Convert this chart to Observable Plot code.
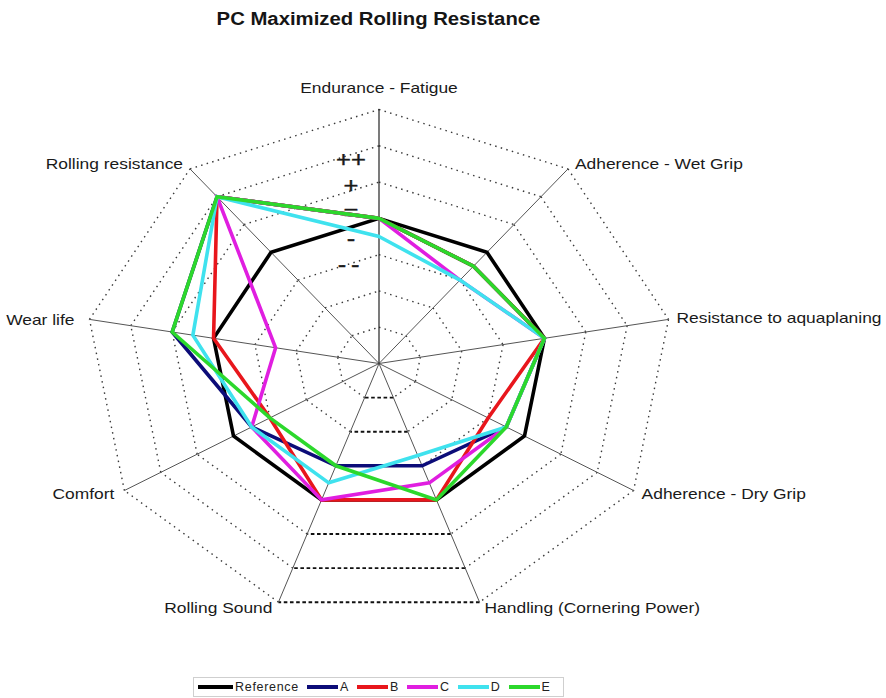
<!DOCTYPE html>
<html><head><meta charset="utf-8">
<script src="https://cdn.jsdelivr.net/npm/d3@7"></script>
<script src="https://cdn.jsdelivr.net/npm/@observablehq/plot@0.6"></script>
<style>
body{margin:0;background:#fff;font-family:Arial,"Liberation Sans",sans-serif;}
#wrap{position:relative;width:886px;height:698px;overflow:hidden;background:#fff;}
#title{position:absolute;left:0;top:9px;width:757px;text-align:center;font-weight:bold;font-size:17.5px;color:#151515;transform:scaleX(1.16);transform-origin:378.5px 0;white-space:nowrap;}
#chart{position:absolute;left:0;top:40px;}
#legend{position:absolute;left:193px;top:677px;width:371px;height:20px;border:1px solid #cfcfcf;box-sizing:border-box;display:flex;align-items:center;padding-left:4px;font-size:12.5px;letter-spacing:0.7px;color:#222;}
#legend .ln{display:inline-block;width:31px;height:4px;margin-right:2px;}
#legend .lb{margin-right:8px;}
</style>
</head><body>
<div id="wrap">
  <div id="title">PC Maximized Rolling Resistance</div>
  <div id="chart"></div>
  <div id="legend"></div>
</div>
<script>
// ---- data ----
const axes = ["Endurance - Fatigue","Adherence - Wet Grip","Resistance to aquaplaning","Adherence - Dry Grip","Handling (Cornering Power)","Rolling Sound","Comfort","Wear life","Rolling resistance"];
const seriesNames = ["Reference","A","B","C","D","E"];
const seriesColors = ["#000000","#0c0c78","#e8161c","#e01ee0","#3fe2ee","#2cd82c"];
const reference = [4,4,4,4,4,4,4,4,4];
const seriesA  = [4,3.5,4,3.5,3,3,3.5,5,6];
const seriesB  = [4,3.5,4,3,4,4,3,4,6];
const seriesC  = [4,3,4,3.5,3.5,4,3.5,2.5,6];
const seriesD  = [3.5,3,4,3.5,2.7,3.5,3.5,4.5,6];
const seriesE  = [4,3.5,4,3.5,4,3,3,5,6];
const ringLevels = [1,2,3,4,5,6,7];
const levelLabels = ["++","+","=","-","--"];

// ---- layout helpers ----
const vmax = 7;
const n = axes.length;
const ang = i => i * 2 * Math.PI / n;
const px = (v, i) => v / vmax * Math.sin(ang(i));
const py = (v, i) => v / vmax * Math.cos(ang(i));
const allSeries = [reference, seriesA, seriesB, seriesC, seriesD, seriesE];

// ring segments
const dotted = [], dashed = [];
for (const k of ringLevels) {
  for (let i = 0; i < n; i++) {
    const j = (i + 1) % n;
    const seg = {x1: px(k, i), y1: py(k, i), x2: px(k, j), y2: py(k, j)};
    (i === 4 ? dashed : dotted).push(seg);
  }
}
const spokes = axes.map((a, i) => ({x1: 0, y1: 0, x2: px(vmax, i), y2: py(vmax, i), top: i === 0}));

const lineMarks = allSeries.map((vals, s) =>
  Plot.line(vals.map((v, i) => ({x: px(v, i), y: py(v, i)})), {
    x: "x", y: "y", curve: "linear-closed", stroke: seriesColors[s],
    strokeWidth: 3.6, strokeLinejoin: "miter", strokeMiterlimit: 3
  })
);

// label offsets (pixels) per axis
const labelOffsets = [[0,-21],[7,-5],[8,-1],[8,4],[5,6],[-6,6],[-10,4],[-15,1],[-7,-5]];
const labelMarks = axes.map((a, i) => {
  const s = Math.sin(ang(i));
  const anchor = Math.abs(s) < 1e-6 ? "middle" : (s > 0 ? "start" : "end");
  return Plot.text([{x: px(vmax, i), y: py(vmax, i), t: a}], {
    x: "x", y: "y", text: "t", textAnchor: anchor,
    dx: labelOffsets[i][0], dy: labelOffsets[i][1],
    fontSize: 15, fill: "#1a1a1a", fontFamily: "Arial, 'Liberation Sans', sans-serif"
  });
});

const levelData = levelLabels.map((t, i) => ({x: 0, y: (5.6 - 0.72 * i) / vmax, t}));

const chart = Plot.plot({
  width: 886, height: 625, margin: 0,
  style: {background: "transparent", overflow: "visible"},
  x: {domain: [-1, 1], range: [378.5 - 294, 378.5 + 294], axis: null},
  y: {domain: [-1, 1], range: [323 + 254, 323 - 254], axis: null},
  marks: [
    Plot.link(dotted, {x1: "x1", y1: "y1", x2: "x2", y2: "y2", stroke: "#3a3a3a", strokeWidth: 1.4, strokeDasharray: "1.5,4.3"}),
    Plot.link(dashed, {x1: "x1", y1: "y1", x2: "x2", y2: "y2", stroke: "#111", strokeWidth: 1.9, strokeDasharray: "3.6,2.6"}),
    Plot.link(spokes.filter(d => !d.top), {x1: "x1", y1: "y1", x2: "x2", y2: "y2", stroke: "#555", strokeWidth: 1}),
    Plot.link(spokes.filter(d => d.top), {x1: "x1", y1: "y1", x2: "x2", y2: "y2", stroke: "#222", strokeWidth: 1.2}),
    Plot.text(levelData, {x: "x", y: "y", text: "t", dx: -28, fontSize: 22, fill: "#1a1a1a", stroke: "#1a1a1a", strokeWidth: 0.4, fontFamily: "Arial, 'Liberation Sans', sans-serif"}),
    ...lineMarks,
    ...labelMarks
  ]
});

// stretch text horizontally to match reference aspect
d3.select(chart).selectAll("text").each(function() {
  const t = this.getAttribute("transform") || "";
  this.setAttribute("transform", t + " scale(1.16,1)");
  if (this.textContent === "--") this.setAttribute("letter-spacing", "4px");
});
document.getElementById("chart").appendChild(chart);

// legend
const legend = d3.select("#legend");
seriesNames.forEach((name, i) => {
  legend.append("span").attr("class", "ln").style("background", seriesColors[i]).style("width", i === 0 ? "35px" : "31px");
  legend.append("span").attr("class", "lb").text(name);
});
</script>
</body></html>
